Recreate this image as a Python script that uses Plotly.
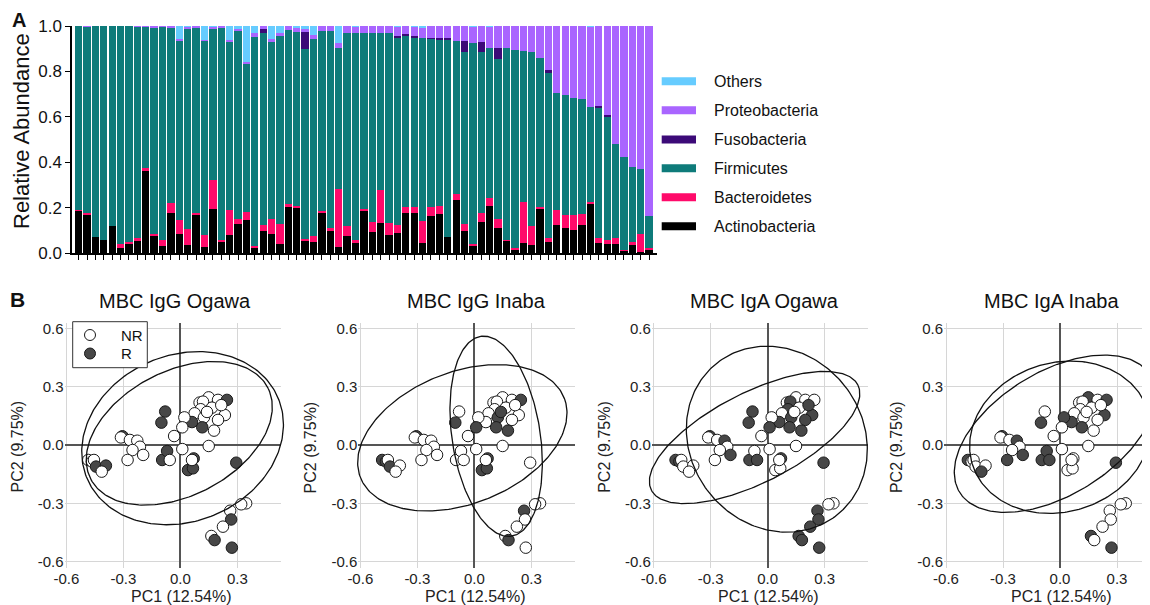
import numpy as np
import plotly.graph_objects as go

# The page body adds an 8 px margin; lay the figure out in screen pixels and
# subtract that offset so the picture lines up with the 1150x605 window.
SCREEN_W, SCREEN_H = 1150, 605
OFF = 8
W, H = SCREEN_W - OFF, SCREEN_H - OFF
FONT = "Liberation Sans, Arial, Helvetica, sans-serif"

# ---------------- Panel A data (relative abundance per sample) ----------------
samples = [f"S{i+1}" for i in range(69)]
actinobacteria = [0.185,0.170,0.070,0.056,0.118,0.024,0.038,0.053,0.362,0.078,
                  0.030,0.178,0.085,0.034,0.170,0.026,0.193,0.049,0.081,0.129,
                  0.144,0.024,0.096,0.085,0.038,0.203,0.197,0.053,0.049,0.178,
                  0.096,0.025,0.074,0.044,0.184,0.093,0.132,0.078,0.088,0.176,
                  0.176,0.044,0.162,0.174,0.070,0.235,0.097,0.031,0.137,0.206,
                  0.112,0.053,0.015,0.044,0.037,0.196,0.049,0.122,0.112,0.100,
                  0.122,0.215,0.044,0.041,0.041,0.009,0.034,0.004,0.015]
bacteroidetes = [0.005,0.006,0,0,0,0.017,0.009,0.015,0.014,0.007,
                 0.026,0.042,0.059,0.072,0.006,0.052,0.127,0.010,0.109,0.020,
                 0.037,0.005,0.026,0.066,0.091,0.012,0.012,0.009,0.025,0.006,
                 0.016,0.256,0.045,0.015,0.012,0.044,0.147,0.054,0.037,0.027,
                 0.027,0.097,0.041,0.035,0,0.027,0.032,0.010,0.039,0.037,
                 0.037,0.006,0.009,0.181,0.081,0.007,0.019,0.066,0.054,0.066,
                 0.052,0.011,0.022,0.018,0.025,0.004,0.016,0.078,0.006]
firmicutes = [0.810,0.821,0.930,0.944,0.882,0.959,0.953,0.928,0.621,0.910,
              0.940,0.774,0.794,0.884,0.818,0.856,0.668,0.931,0.738,0.830,
              0.650,0.924,0.846,0.777,0.827,0.767,0.765,0.835,0.867,0.795,
              0.867,0.620,0.852,0.909,0.772,0.831,0.689,0.836,0.824,0.757,
              0.747,0.805,0.743,0.732,0.871,0.673,0.758,0.883,0.711,0.661,
              0.705,0.842,0.870,0.666,0.766,0.654,0.726,0.518,0.530,0.519,
              0.505,0.415,0.575,0.544,0.416,0.411,0.329,0.286,0.142]
fusobacteria = [0,0,0,0,0,0,0,0,0,0,
                0,0,0,0,0,0,0,0,0,0,
                0,0,0.018,0,0,0,0,0.075,0,0,
                0,0,0,0,0,0,0,0,0.009,0.003,
                0.004,0,0.003,0.004,0.004,0,0.047,0,0.041,0,
                0.051,0,0,0,0,0,0.012,0,0,0,
                0,0,0.006,0.006,0,0,0,0,0]
proteobacteria = [0,0.003,0,0,0,0,0,0.004,0.003,0.005,
                  0.004,0.006,0.005,0.007,0.006,0.004,0.009,0.010,0.010,0.010,
                  0.012,0.015,0.014,0.015,0.015,0.018,0.017,0.015,0.021,0.021,
                  0.021,0.022,0.029,0.029,0.032,0.032,0.032,0.032,0.039,0.037,
                  0.043,0.048,0.051,0.055,0.055,0.065,0.066,0.073,0.072,0.093,
                  0.095,0.099,0.106,0.109,0.116,0.143,0.194,0.294,0.304,0.315,
                  0.321,0.356,0.353,0.391,0.518,0.576,0.621,0.632,0.837]
others = [0,0,0,0,0,0,0,0,0,0,
          0,0,0.057,0.003,0,0.062,0.003,0,0.062,0.011,
          0.157,0.032,0,0.057,0.029,0,0.009,0.013,0.038,0,
          0,0.077,0,0.003,0,0,0,0,0.003,0,
          0.003,0.006,0,0,0,0,0,0.003,0,0.003,
          0,0,0,0,0,0,0,0,0,0,
          0,0.003,0,0,0,0,0,0,0]

phyla_stack = ["Actinobacteria", "Bacteroidetes", "Firmicutes",
               "Fusobacteria", "Proteobacteria", "Others"]
phyla_values = [actinobacteria, bacteroidetes, firmicutes,
                fusobacteria, proteobacteria, others]
phyla_colors = ["#000000", "#ff0a6a", "#0e7b7a", "#3c0a78", "#a965ff", "#66ccff"]
legend_order = ["Others", "Proteobacteria", "Fusobacteria",
                "Firmicutes", "Bacteroidetes", "Actinobacteria"]
abund_ticks = [0, 0.2, 0.4, 0.6, 0.8, 1.0]
abund_ticktext = ["0.0", "0.2", "0.4", "0.6", "0.8", "1.0"]

# ---------------- Panel B data (PCoA scores, shared across panels) ----------------
pc1 = [0.149,0.101,0.119,0.198,0.245,0.166,0.107,0.075,0.124,0.234,0.198,0.115,
       0.061,0.021,0.010,0.177,0.149,-0.033,-0.080,-0.100,0.010,0.215,0.140,
       -0.305,-0.313,-0.266,-0.227,-0.213,-0.252,-0.196,-0.278,
       -0.485,-0.465,-0.455,-0.444,-0.392,-0.414,
       -0.096,-0.070,-0.056,0.040,0.066,0.070,0.061,0.294,
       0.346,0.320,0.262,0.267,0.224,0.163,0.180,0.271]
pc2 = [0.245,0.218,0.223,0.232,0.232,0.192,0.184,0.163,0.142,0.154,0.129,0.091,
       0.118,0.142,0.091,0.074,-0.005,0.046,0.172,0.115,-0.021,0.205,0.170,
       0.045,0.039,0.026,0.022,-0.009,-0.026,-0.051,-0.077,
       -0.077,-0.085,-0.077,-0.111,-0.106,-0.137,
       -0.077,-0.031,-0.077,-0.129,-0.120,-0.069,-0.077,-0.091,
       -0.300,-0.305,-0.338,-0.383,-0.420,-0.468,-0.489,-0.528]

def _g(s):
    return ["R" if ch == "R" else "NR" for ch in s.split()]

group_igg_ogawa = _g("N N N N R N N N N N N R R N N N N N R R N N N "
                     "R N N N N N N N  N N N R R N  R R N R R R N R  N N N R N N R R")
group_igg_inaba = _g("N N N N R N N N R N N R N N R R N N N R N N R "
                     "R N N N N N N N  R R N R N N  N N N R R R N N  N N R N N N R N")
group_iga_ogawa = _g("N N R N N N R N R R R R R N R R N N R R N R N "
                     "R N N R N N R N  R R N N N N  R N R N N R N R  N N R R R R R R")
group_iga_inaba = _g("R N N N R N N N N R N R R R N N N N N R N N N "
                     "R N N R N N R R  R N N N N R  R R R N N N N R  N N N N N R N R")

panel_titles = ["MBC IgG Ogawa", "MBC IgG Inaba", "MBC IgA Ogawa", "MBC IgA Inaba"]
panel_groups = [group_igg_ogawa, group_igg_inaba, group_iga_ogawa, group_iga_inaba]
# confidence ellipses per panel: (centre pc1, centre pc2, semi-major, semi-minor, angle deg)
panel_ellipses = [
    [(0.0115, 0.035, 0.544, 0.429, 20.8), (-0.006, 0.060, 0.522, 0.322, 26.1)],
    [(-0.063, 0.037, 0.574, 0.340, 20.4), (0.115, 0.045, 0.520, 0.232, 99.0)],
    [(0.048, 0.030, 0.503, 0.450, -46.0), (-0.069, 0.0385, 0.607, 0.232, 26.3)],
    [(-0.027, 0.058, 0.585, 0.319, 30.5), (0.000, 0.040, 0.482, 0.384, 15.5)],
]
pc1_ticks = [-0.6, -0.3, 0.0, 0.3]
pc1_ticktext = ["-0.6", "-0.3", "0.0", "0.3"]
pc2_ticks = [-0.6, -0.3, 0.0, 0.3, 0.6]
pc2_ticktext = ["-0.6", "-0.3", "0.0", "0.3", "0.6"]
group_fill = {"NR": "#ffffff", "R": "#474747"}

# ---------------- helpers: screen pixel -> paper fraction ----------------
def xp(px):
    return (px - OFF) / W

def yp(py):
    return 1 - (py - OFF) / H

fig = go.Figure()
layout = dict(
    template="none",
    width=W, height=H, margin=dict(l=0, r=0, t=0, b=0, pad=0, autoexpand=False),
    paper_bgcolor="white", plot_bgcolor="rgba(0,0,0,0)",
    barmode="stack", bargap=0.13, showlegend=False,
    font=dict(family=FONT, color="#111111"),
    shapes=[], annotations=[],
)

# ---------------- Panel A: stacked bars ----------------
for name, vals, col in zip(phyla_stack, phyla_values, phyla_colors):
    fig.add_trace(go.Bar(x=samples, y=vals, name=name, marker=dict(color=col, line=dict(width=0)),
                         xaxis="x5", yaxis="y5", hoverinfo="x+y+name"))

layout["xaxis5"] = dict(domain=[xp(72), xp(657)], anchor="y5", type="category",
                        categoryorder="array", categoryarray=samples,
                        range=[-0.79, 68.94], showticklabels=False,
                        tickmode="array", tickvals=samples,
                        ticks="outside", ticklen=5, tickwidth=1, tickcolor="#000",
                        showline=True, linecolor="#000", linewidth=1.5,
                        showgrid=False, zeroline=False, fixedrange=True, automargin=False)
layout["yaxis5"] = dict(domain=[yp(253), yp(26)], anchor="x5", range=[0, 1],
                        tickmode="array", tickvals=abund_ticks, ticktext=abund_ticktext,
                        ticks="outside", ticklen=5, tickwidth=1.2, tickcolor="#000",
                        tickfont=dict(size=17, color="#111"),
                        showline=True, linecolor="#000", linewidth=1.5,
                        showgrid=False, zeroline=False, fixedrange=True, automargin=False)
layout["annotations"].append(dict(text="Relative Abundance", x=xp(21), y=yp(131), xref="paper", yref="paper",
                                  textangle=-90, showarrow=False, font=dict(size=22, color="#111"),
                                  xanchor="center", yanchor="middle"))
layout["annotations"].append(dict(text="<b>A</b>", x=xp(19), y=1.0, xref="paper", yref="paper",
                                  showarrow=False, font=dict(size=20, color="#111"),
                                  xanchor="center", yanchor="top", borderpad=0))

# legend for panel A (swatches + labels)
legend_rows_y = [81.3, 110.3, 139.5, 168.3, 197.2, 226.2]
for lname, cy in zip(legend_order, legend_rows_y):
    col = phyla_colors[phyla_stack.index(lname)]
    layout["shapes"].append(dict(type="rect", xref="paper", yref="paper",
                                 x0=xp(661.7), x1=xp(696), y0=yp(cy + 4), y1=yp(cy - 4),
                                 fillcolor=col, line=dict(width=0)))
    layout["annotations"].append(dict(text=lname, x=xp(712), y=yp(cy), xref="paper", yref="paper",
                                      showarrow=False, xanchor="left", yanchor="middle",
                                      font=dict(size=16, color="#111")))

# ---------------- Panel B: four PCoA scatter panels ----------------
panel_left = [64.5, 358.4, 651.8, 944.1]
x_ppu = 190.0
y_top, y_bot = 322.5, 567.5
y_range = [-0.63, 0.63]
y_ppu = (y_bot - y_top) / (y_range[1] - y_range[0])
pad = 28
title_cx = [175, 476, 764, 1051]

for k in range(4):
    left = panel_left[k]
    right = min(left + 216.6, SCREEN_W)
    xr = [-0.61, -0.61 + (right - left) / x_ppu]
    xi, yi = k + 1, k + 1
    oi = k + 6
    layout[f"xaxis{xi}"] = dict(domain=[xp(left), xp(right)], anchor=f"y{yi}", range=xr,
                                tickmode="array", tickvals=pc1_ticks, ticktext=pc1_ticktext,
                                showgrid=True, gridcolor="#d6d6d6", gridwidth=1,
                                zeroline=True, zerolinecolor="#555555", zerolinewidth=1.5,
                                showline=False, ticks="", tickfont=dict(size=15, color="#222"),
                                fixedrange=True, automargin=False)
    layout[f"yaxis{yi}"] = dict(domain=[yp(y_bot), yp(y_top)], anchor=f"x{xi}", range=y_range,
                                tickmode="array", tickvals=pc2_ticks, ticktext=pc2_ticktext,
                                showgrid=True, gridcolor="#d6d6d6", gridwidth=1,
                                zeroline=True, zerolinecolor="#555555", zerolinewidth=1.5,
                                showline=False, ticks="", tickfont=dict(size=15, color="#222"),
                                fixedrange=True, automargin=False)
    # overlay axes (same scale, larger area) so ellipses may extend past the grid
    lo, ro = max(OFF, left - pad), min(SCREEN_W, right + pad)
    xro = [xr[0] - (left - lo) / x_ppu, xr[1] + (ro - right) / x_ppu]
    to, bo = y_top - pad, y_bot + pad
    yro = [y_range[0] - (bo - y_bot) / y_ppu, y_range[1] + (y_top - to) / y_ppu]
    layout[f"xaxis{oi}"] = dict(domain=[xp(lo), xp(ro)], anchor=f"y{oi}", range=xro,
                                visible=False, fixedrange=True, automargin=False)
    layout[f"yaxis{oi}"] = dict(domain=[yp(bo), yp(to)], anchor=f"x{oi}", range=yro,
                                visible=False, fixedrange=True, automargin=False)

    groups = panel_groups[k]
    fig.add_trace(go.Scatter(x=pc1, y=pc2, mode="markers", xaxis=f"x{xi}", yaxis=f"y{yi}",
                             text=groups, hovertemplate="%{text}<br>PC1 %{x}<br>PC2 %{y}<extra></extra>",
                             marker=dict(size=11.5, color=[group_fill[g] for g in groups],
                                         line=dict(color="#1a1a1a", width=1))))
    t = np.linspace(0, 2 * np.pi, 240)
    for (cx, cy, a, b, ang) in panel_ellipses[k]:
        th = np.deg2rad(ang)
        ex = cx + a * np.cos(t) * np.cos(th) - b * np.sin(t) * np.sin(th)
        ey = cy + a * np.cos(t) * np.sin(th) + b * np.sin(t) * np.cos(th)
        fig.add_trace(go.Scatter(x=ex, y=ey, mode="lines", xaxis=f"x{oi}", yaxis=f"y{oi}",
                                 line=dict(color="#111", width=1.3), hoverinfo="skip"))

    x0px = left + 0.61 * x_ppu
    layout["annotations"].append(dict(text=panel_titles[k], x=xp(title_cx[k]), y=yp(301),
                                      xref="paper", yref="paper", showarrow=False,
                                      xanchor="center", yanchor="middle",
                                      font=dict(size=20, color="#111")))
    layout["annotations"].append(dict(text="PC1 (12.54%)", x=xp(x0px + 1), y=yp(596),
                                      xref="paper", yref="paper", showarrow=False,
                                      xanchor="center", yanchor="middle",
                                      font=dict(size=16, color="#222")))
    layout["annotations"].append(dict(text="PC2 (9.75%)", x=xp(left - 48), y=yp(447),
                                      xref="paper", yref="paper", showarrow=False, textangle=-90,
                                      xanchor="center", yanchor="middle",
                                      font=dict(size=16, color="#222")))

layout["annotations"].append(dict(text="<b>B</b>", x=xp(17), y=yp(299), xref="paper", yref="paper",
                                  showarrow=False, font=dict(size=21, color="#111"),
                                  xanchor="center", yanchor="middle"))

# group legend inside first PCoA panel
layout["shapes"].append(dict(type="rect", xref="paper", yref="paper", layer="above",
                             x0=xp(72.7), x1=xp(147.3), y0=yp(367.7), y1=yp(321.7),
                             fillcolor="white", line=dict(color="#333", width=1)))
for gname, cy in [("NR", 335.0), ("R", 353.5)]:
    layout["shapes"].append(dict(type="circle", xref="paper", yref="paper", layer="above",
                                 xsizemode="pixel", ysizemode="pixel",
                                 xanchor=xp(90), yanchor=yp(cy), x0=-5.5, x1=5.5, y0=-5.5, y1=5.5,
                                 fillcolor=group_fill[gname], line=dict(color="#1a1a1a", width=1)))
    layout["annotations"].append(dict(text=gname, x=xp(119), y=yp(cy), xref="paper", yref="paper",
                                      showarrow=False, xanchor="left", yanchor="middle",
                                      font=dict(size=15, color="#111")))

fig.update_layout(**layout)
fig.write_html("out.html")
